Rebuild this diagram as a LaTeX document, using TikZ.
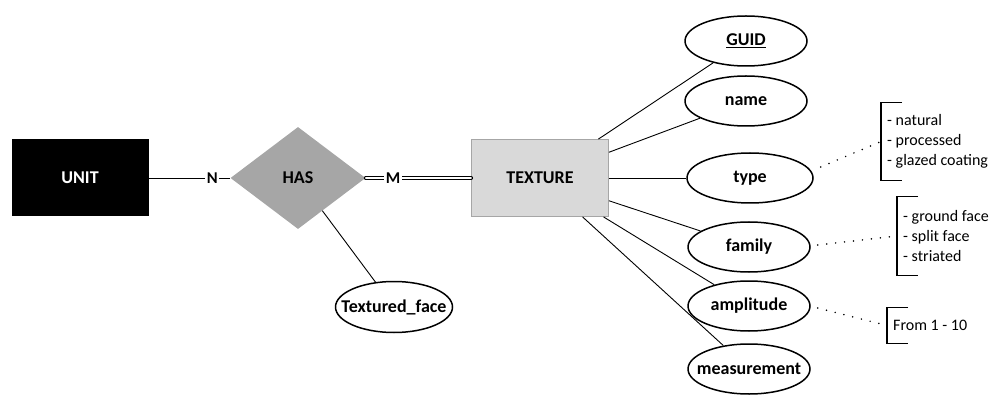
\documentclass[tikz,border=0pt]{standalone}
\usepackage{fontspec}
\setmainfont{Carlito}
\usepackage{xcolor}
\usetikzlibrary{shapes.geometric}

\definecolor{relgray}{HTML}{A6A6A6}
\definecolor{boxgray}{HTML}{D9D9D9}

\begin{document}
\begin{tikzpicture}[
  x=1pt, y=-1pt,
  entity/.style={rectangle, minimum width=137pt, minimum height=77pt, font=\fontsize{18}{20}\selectfont\bfseries},
  rel/.style={diamond, fill=relgray, minimum width=135pt, minimum height=102pt, inner sep=0pt, font=\fontsize{18}{20}\selectfont\bfseries},
  attr/.style={ellipse, draw, line width=1.5pt, minimum width=122pt, minimum height=50pt, inner sep=0pt,
    font=\fontsize{18}{20}\selectfont\bfseries,
    execute at begin node={\hbox to 0pt\bgroup\hss}, execute at end node={\hss\egroup}},
  link/.style={draw, line width=0.9pt},
  card/.style={fill=white, inner sep=1.5pt, font=\fontsize{16.5}{16}\selectfont\bfseries},
  dotline/.style={draw, line width=1.7pt, line cap=round, dash pattern=on 0pt off 9pt},
  vals/.style={anchor=west, align=left, inner xsep=6pt, inner ysep=0pt, font=\fontsize{16}{20}\selectfont},
  bracket/.style={draw, line width=1.3pt}
]
\useasboundingbox (0,0) rectangle (1000,395);

% entities and relation
\node[entity, fill=black, text=white] (unit) at (80,178) {UNIT};
\node[rel] (has) at (298,178) {HAS};
\node[entity, fill=boxgray, draw=relgray, line width=0.8pt] (tex) at (540,178) {TEXTURE};

% attributes
\node[attr, minimum width=117pt, minimum height=51pt] (tface) at (394,307) {Textured\_face};
\node[attr] (guid) at (746,41) {\underline{GUID}};
\node[attr] (name) at (746,101) {name};
\node[attr, minimum width=126pt] (type) at (750,178) {type};
\node[attr] (family) at (749,247) {family};
\node[attr] (ampl) at (749,306) {amplitude};
\node[attr] (meas) at (749,369) {measurement};

% value lists
\node[vals, minimum height=77pt] (typevals) at (881,141.5) {- natural\\- processed\\- glazed coating};
\node[vals, minimum height=78pt] (famvals) at (897,236) {- ground face\\- split face\\- striated};
\node[vals, minimum height=35pt] (amplvals) at (887,325.5) {From 1 - 10};

% connectors
\draw[link] (unit) -- node[card, pos=0.78] {N} (has);
\draw[link, line width=1.2pt, double, double distance=1.5pt, line cap=round] (has) -- node[card, pos=0.26] {M} (tex);
\draw[link] (has) -- (tface);
\draw[link] (tex) -- (guid);
\draw[link] (tex) -- (name);
\draw[link] (tex) -- (type);
\draw[link] (tex) -- (family);
\draw[link] (tex) -- (ampl);
\draw[link] (tex) -- (meas);

% brackets
\draw[bracket] ([xshift=21pt]typevals.north west) -- (typevals.north west) -- (typevals.south west) -- ++(21,0);
\draw[bracket] ([xshift=21pt]famvals.north west) -- (famvals.north west) -- (famvals.south west) -- ++(21,0);
\draw[bracket] ([xshift=21pt]amplvals.north west) -- (amplvals.north west) -- (amplvals.south west) -- ++(21,0);

\draw[dotline] ([shift={(7,-11)}]type.east) -- (typevals.west);
\draw[dotline] ([shift={(7,-2)}]family.east) -- (famvals.west);
\draw[dotline] ([shift={(7,2)}]ampl.east) -- (amplvals.west);

\end{tikzpicture}
\end{document}
